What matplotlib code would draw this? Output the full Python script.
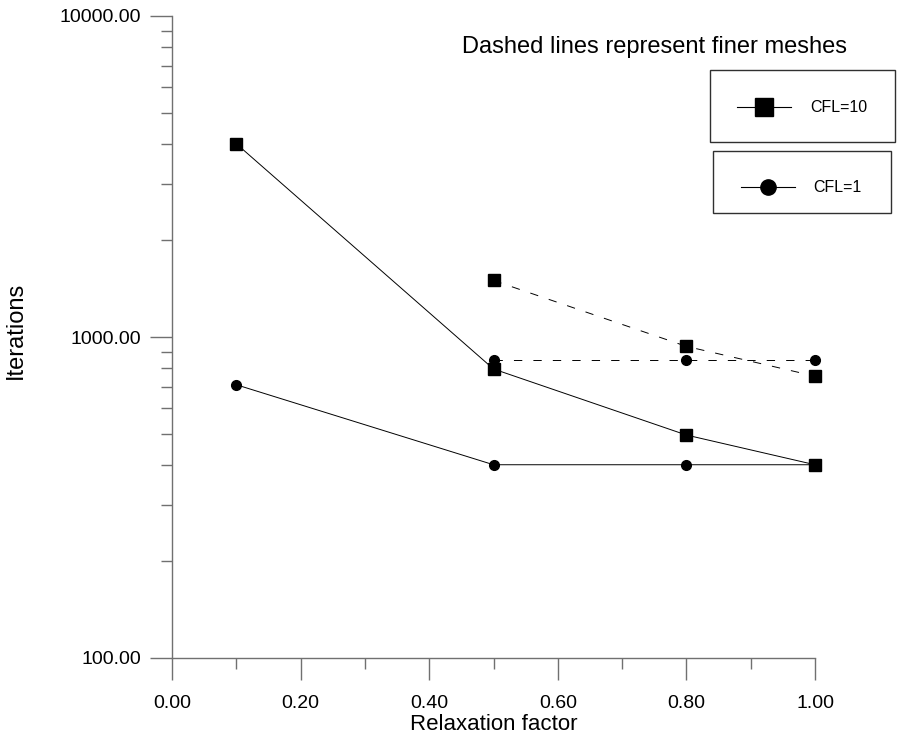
import numpy as np
import matplotlib
matplotlib.use('Agg')
import matplotlib.pyplot as plt
from matplotlib.lines import Line2D
from matplotlib.patches import Rectangle
from matplotlib.ticker import FixedLocator, FuncFormatter, NullFormatter, LogLocator

plt.rcParams['font.family'] = ['Liberation Sans', 'DejaVu Sans']
plt.rcParams['lines.scale_dashes'] = False

# relaxation factor values
relax_coarse = [0.1, 0.5, 0.8, 1.0]
relax_fine = [0.5, 0.8, 1.0]

# iterations, coarse mesh (solid lines)
cfl10_coarse = [4000, 795, 495, 400]
cfl1_coarse = [710, 400, 400, 400]

# iterations, finer mesh (dashed lines)
cfl10_fine = [1500, 935, 755]
cfl1_fine = [845, 845, 845]

xticks = [0.0, 0.2, 0.4, 0.6, 0.8, 1.0]
yticks = [100, 1000, 10000]

W, H = 901, 744
fig = plt.figure(figsize=(W / 100, H / 100), dpi=100)
ax = fig.add_axes([172 / W, (H - 658) / H, (815 - 172) / W, (658 - 16) / H])

axis_col = '#707070'

ax.plot(relax_coarse, cfl10_coarse, color='black', lw=0.7, marker='s', ms=8.5,
        mec='black', mfc='black', clip_on=False)
ax.plot(relax_coarse, cfl1_coarse, color='black', lw=0.7, marker='o', ms=7,
        mec='black', mfc='black', clip_on=False)
ax.plot(relax_fine, cfl10_fine, color='black', lw=0.7, ls=(0, (6, 8)), marker='s',
        ms=8.5, mec='black', mfc='black', clip_on=False)
ax.plot(relax_fine, cfl1_fine, color='black', lw=0.7, ls=(0, (6, 8)), marker='o',
        ms=7, mec='black', mfc='black', clip_on=False)

ax.set_yscale('log')
ax.set_xlim(0, 1.0)
ax.set_ylim(100, 10000)

ax.xaxis.set_major_locator(FixedLocator(xticks))
ax.xaxis.set_minor_locator(FixedLocator([0.1, 0.3, 0.5, 0.7, 0.9]))
ax.xaxis.set_major_formatter(FuncFormatter(lambda v, p: f'{v:.2f}'))

ax.yaxis.set_major_locator(FixedLocator(yticks))
ax.yaxis.set_minor_locator(LogLocator(base=10, subs=np.arange(2, 10)))
ax.yaxis.set_major_formatter(FuncFormatter(lambda v, p: f'{v:.2f}'))
ax.yaxis.set_minor_formatter(NullFormatter())

for s in ['top', 'right']:
    ax.spines[s].set_visible(False)
for s in ['left', 'bottom']:
    ax.spines[s].set_color(axis_col)
    ax.spines[s].set_linewidth(1.0)

ax.tick_params(which='major', direction='out', length=16, width=1.0, color=axis_col,
               labelsize=14, pad=6)
ax.tick_params(which='minor', direction='out', length=8, width=1.0, color=axis_col)
ax.tick_params(axis='x', which='major', pad=11)

ax.set_xlabel('Relaxation factor', fontsize=16, labelpad=1)
ax.set_ylabel('Iterations', fontsize=17)
ax.yaxis.label.set_va('center')
ax.yaxis.set_label_coords((16 - 172) / 643, (658 - 330) / 642)

# annotation
fig.text(655 / W, 1 - 47 / H, 'Dashed lines represent finer meshes', fontsize=17,
         ha='center', va='center')

# legend boxes (figure pixel coords)
def legend_box(x0, y0, x1, y1, marker, ms, label, ly, lx0, lx1, tx):
    fig.add_artist(Rectangle((x0 / W, 1 - y1 / H), (x1 - x0) / W, (y1 - y0) / H,
                             transform=fig.transFigure, fill=False,
                             edgecolor='#303030', lw=1.0))
    fig.add_artist(Line2D([lx0 / W, lx1 / W], [1 - ly / H, 1 - ly / H],
                          transform=fig.transFigure, color='black', lw=0.8))
    fig.add_artist(Line2D([(lx0 + lx1) / 2 / W], [1 - ly / H], transform=fig.transFigure,
                          marker=marker, ms=ms, color='black', ls='none'))
    fig.text(tx / W, 1 - ly / H, label, fontsize=11.5, ha='left', va='center')

legend_box(710, 70, 895, 142, 's', 13, 'CFL=10', 107, 737, 791, 810)
legend_box(713, 151, 891, 213, 'o', 11, 'CFL=1', 187, 741, 795, 813)

fig.savefig('out.png', dpi=100)
